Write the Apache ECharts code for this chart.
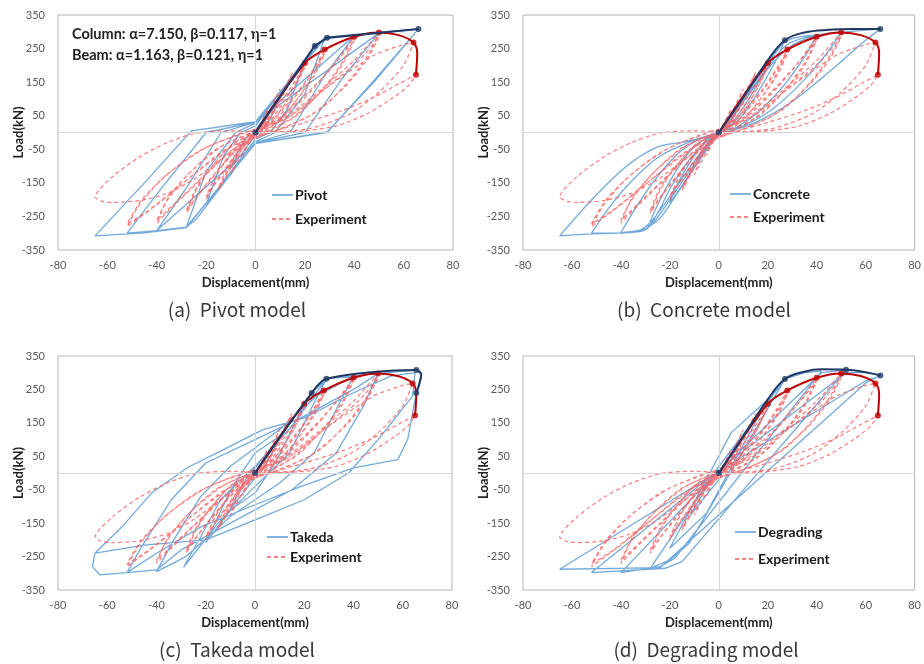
<!DOCTYPE html>
<html><head><meta charset="utf-8">
<script src="https://cdn.jsdelivr.net/npm/echarts@6/dist/echarts.min.js"></script>
<style>html,body{margin:0;padding:0;background:#fff}#c{width:924px;height:664px}</style>
</head><body><div id="c"></div>
<script>
// ---------- tick labels ----------
const xTicks = [-80, -60, -40, -20, 0, 20, 40, 60, 80];
const yTicks = [-350, -250, -150, -50, 50, 150, 250, 350];
const modelNames = ['Pivot', 'Concrete', 'Takeda', 'Degrading'];
const captions = ['(a)  Pivot model', '(b)  Concrete model', '(c)  Takeda model', '(d)  Degrading model'];

// ---------- experiment (same in all panels) ----------
const experimentPath = [
 [0,0],[2,25],[4,55],[5,70],[4,50],[2,18],[0,-2],[-2,-25],[-4,-52],[-5,-68],[-4,-48],[-2,-15],[0,2],
 [3,30],[6,70],[8,100],[10,130],[8,95],[5,48],[2,12],[-1,-10],[-4,-45],[-7,-85],[-10,-125],[-8,-88],[-5,-42],[-2,-10],[1,8],
 [5,45],[10,110],[13,150],[15,178],[12,130],[8,70],[4,22],[0,-6],[-5,-45],[-10,-105],[-15,-172],[-12,-125],[-8,-68],[-3,-20],[1,6],
 [6,50],[11,115],[15,170],[12,122],[7,60],[3,15],[-1,-10],[-6,-55],[-11,-115],[-15,-165],[-12,-115],[-7,-55],[-2,-12],[1,8],
 [6,45],[13,120],[17,165],[20,207],[17,150],[12,85],[6,28],[0,-8],[-6,-50],[-13,-120],[-17,-160],[-20,-200],[-17,-142],[-12,-82],[-6,-28],[1,5],
 [7,45],[14,120],[20,195],[16,135],[11,75],[5,20],[-1,-10],[-7,-55],[-14,-125],[-20,-190],[-16,-130],[-11,-72],[-5,-22],[1,5],
 [8,45],[18,130],[24,195],[28,247],[24,180],[18,110],[10,38],[2,-5],[-8,-55],[-18,-140],[-24,-195],[-28,-240],[-24,-172],[-18,-105],[-10,-40],[0,2],
 [9,45],[19,135],[28,235],[24,172],[17,100],[9,32],[0,-8],[-9,-60],[-19,-145],[-28,-232],[-24,-165],[-17,-95],[-9,-32],[1,4],
 [10,45],[22,125],[32,205],[40,285],[36,220],[29,145],[18,58],[6,5],[-8,-45],[-20,-125],[-32,-210],[-40,-270],[-36,-205],[-28,-130],[-16,-50],[-2,0],
 [11,45],[24,135],[40,275],[35,200],[27,125],[15,45],[2,-5],[-10,-55],[-24,-150],[-40,-262],[-35,-190],[-26,-115],[-13,-38],[0,3],
 [12,45],[26,125],[40,215],[50,298],[46,235],[38,155],[26,68],[10,10],[-8,-35],[-25,-125],[-40,-215],[-52,-280],[-47,-215],[-38,-140],[-24,-60],[-8,-8],
 [12,40],[28,130],[42,215],[50,285],[45,215],[36,135],[22,50],[6,0],[-12,-50],[-30,-155],[-44,-235],[-52,-272],[-46,-200],[-35,-120],[-20,-45],[-4,0],
 [12,40],[30,140],[48,230],[60,262],[64,268],[60,200],[50,120],[38,55],[22,12],[5,2],
 [-11,5],[-24,-2],[-36,-31],[-47,-73],[-58,-132],[-65,-192],[-62,-205],[-58,-208],[-47,-203],[-36,-182],[-25,-140],[-12,-70],[0,-15],
 [8,5],[20,30],[35,65],[48,105],[58,145],[65,172],[62,140],[55,100],[45,55],[33,20],[20,5],[5,0]
];
const experimentEnvelope = [[0,0],[20,207],[28,247],[40,285],[50,298],[58,290],[64,268],[65.5,235],[65,172]];
const experimentMarks = [[20,207],[28,247],[40,285],[50,298],[64,268],[65,172]];

// ---------- Pivot model ----------
const pivotPath = [
 [0,0],[10,107],[6,40],[2,0],[0,-8],[-10,-107],[-6,-40],[-2,0],[0,8],
 [20,215],[13,70],[6,0],[0,-20],[-20,-215],[-13,-70],[-6,0],[0,20],
 [24,258],[28,280],[20,115],[8,0],[0,-28],[-24,-258],[-28,-282],[-20,-115],[-8,0],[0,28],
 [28,280],[40,288],[28,170],[14,0],[0,-30],[-28,-282],[-40,-292],[-28,-165],[-14,0],[0,30],
 [40,288],[50,296],[35,160],[20,0],[0,-31],[-40,-292],[-52,-300],[-38,-165],[-20,0],[0,31],
 [50,296],[66,308],[48,155],[29,0],[0,-32],[-28,-283],[-45,-299],[-65,-308],[-45,-150],[-26,5],[0,32],
 [28,283],[50,298],[66,308],[48,150],[29,2],[0,-33]
];
const pivotEnvelope = [[0,0],[24,258],[29,282],[66,308]];
const pivotMarks = [[0,0],[24,258],[29,282],[66,308]];

// ---------- Concrete model ----------
const concretePath = [
 [0,0],[8,85],[12,125],[8,70],[4,25],[0,0],[-8,-85],[-12,-125],[-8,-70],[-4,-25],[0,0],
 [10,105],[20,210],[17,160],[11,85],[5,25],[0,0],[-10,-105],[-20,-210],[-17,-155],[-11,-80],[-5,-22],[0,0],
 [10,105],[20,212],[27,275],[23,210],[16,120],[9,45],[3,8],[0,0],[-10,-105],[-20,-215],[-24,-255],[-29,-283],[-25,-215],[-18,-120],[-11,-50],[-4,-12],[0,0],
 [10,100],[20,205],[27,270],[33,285],[40,290],[35,225],[26,135],[16,60],[7,15],[0,0],[-10,-95],[-20,-200],[-26,-262],[-30,-287],[-40,-298],[-34,-225],[-26,-140],[-17,-65],[-8,-20],[0,0],
 [10,95],[20,195],[28,262],[38,288],[50,298],[44,235],[34,150],[22,70],[10,20],[0,0],[-10,-85],[-20,-190],[-27,-260],[-32,-290],[-42,-300],[-52,-300],[-45,-225],[-35,-140],[-24,-70],[-12,-28],[-3,-6],[0,0],
 [10,90],[20,190],[30,260],[42,292],[52,300],[66,308],[60,275],[45,180],[29,87],[15,30],[5,5],[0,0],[-11,-72],[-19.5,-162],[-25,-240],[-30,-290],[-42,-300],[-52,-302],[-65,-308],[-52,-201],[-38,-102],[-25,-43],[-14,-28],[-3,-8],[0,0]
];
const concreteEnvelope = [[0,0],[10,105],[20,215],[27,275],[35,298],[45,306],[55,308],[66,308]];
const concreteMarks = [[0,0],[27,275],[66,308]];

// ---------- Takeda model ----------
const takedaPath = [
 [0,0],[10,107],[7,60],[3,10],[0,-15],[-10,-107],[-7,-60],[-3,-10],[0,15],
 [10,107],[20,208],[15,130],[9,40],[0,-60],[-10,-110],[-20,-208],[-15,-130],[-9,-40],[0,60],[10,110],
 [23,239],[29,282],[22,180],[14,60],[0,-40],[-15,-150],[-29,-282],[-22,-190],[-14,-80],[0,20],[15,140],
 [29,282],[40,290],[33,190],[24,60],[10,-30],[-10,-130],[-28,-250],[-40,-295],[-33,-200],[-22,-70],[-10,20],[10,130],[25,230],
 [40,290],[50,298],[44,200],[33,60],[15,-50],[-10,-150],[-30,-230],[-40,-290],[-52,-298],[-46,-220],[-34,-80],[-20,30],[0,100],[20,170],[40,250],
 [50,298],[65,308],[67.5,295],[65.5,239],[62,100],[58,40],[40,15],[18,-42],[-2,-101],[-22,-161],[-40,-240],[-52,-298],[-63,-305],[-66,-280],[-65,-240],
 [-54,-161],[-42,-60],[-27,18],[-13,69],[3,129],[20,165],[40,240],[55,290],[65,300],[64,230],[50,100],[38,0],[20,-80],[0,-140],[-20,-200],[-44,-215],[-65,-240]
];
const takedaEnvelope = [[0,0],[23,239],[29,282],[65.5,308],[67.5,295],[65.5,239]];
const takedaMarks = [[0,0],[23,239],[29,282],[65.5,308],[65.5,239]];

// ---------- Degrading model ----------
const degradingPath = [
 [0,0],[12,130],[0,-20],[-12,-130],[0,20],[12,130],[20,220],
 [-5,-120],[-20,-225],[5,120],[20,220],[27,281],
 [-12,-210],[-20,-260],[-28,-285],[0,20],[27,281],[35,300],[42,305],
 [-18,-255],[-24,-280],[-40,-298],[-5,-30],[42,300],[52,308],
 [-15,-265],[-22,-285],[-52,-298],[0,10],[52,300],[60,300],[66,292],
 [60.5,272],[-24,-283],[-65,-288],[60.5,278],[66,290]
];
const degradingEnvelope = [[0,0],[10,110],[20,220],[27,281],[35,303],[42,310],[52,309],[66,292]];
const degradingMarks = [[0,0],[27,281],[52,309],[66,292]];

const modelPaths = [pivotPath, concretePath, takedaPath, degradingPath];
const modelEnvelopes = [pivotEnvelope, concreteEnvelope, takedaEnvelope, degradingEnvelope];
const modelMarks = [pivotMarks, concreteMarks, takedaMarks, degradingMarks];
const modelSmooth = [false, 0.3, false, false];
const envelopeSmooth = [false, 0.4, 0.3, 0.4];

// ---------- layout ----------
const grids = [
 {left: 58, top: 15, width: 395, height: 235},
 {left: 523, top: 15, width: 394, height: 235},
 {left: 58, top: 356, width: 394, height: 234},
 {left: 523, top: 356, width: 394, height: 234}
];
// legend: line start x, first row centre y, second row centre y
const legendPos = [[272, 195, 219], [730, 194, 217], [267, 537, 557], [735, 532, 559]];
const captionPos = [[237, 310], [704, 310], [237, 650], [706, 650]];

const FONT = 'Lato, "Open Sans", "Noto Sans", sans-serif';
const BLUE = '#5b9bd5', RED = '#ff5a5a', DBLUE = '#1f3864', DRED = '#c00000';

const xAxes = [], yAxes = [], series = [], graphics = [];
grids.forEach((g, i) => {
  g.show = true; g.borderColor = '#b4b4b4'; g.borderWidth = 1; g.containLabel = false;
  xAxes.push({
    type: 'value', gridIndex: i, min: xTicks[0], max: xTicks[xTicks.length - 1], interval: 20,
    name: 'Displacement(mm)', nameLocation: 'middle', nameGap: 26, nameMoveOverlap: false,
    nameTextStyle: {fontFamily: FONT, fontWeight: 'bold', fontSize: 13, color: '#222'},
    axisLine: {show: false}, axisTick: {show: false}, splitLine: {show: false},
    axisLabel: {color: '#595959', fontSize: 11, fontFamily: FONT, margin: 10}
  });
  yAxes.push({
    type: 'value', gridIndex: i, min: yTicks[0], max: yTicks[yTicks.length - 1], interval: 100,
    name: 'Load(kN)', nameLocation: 'middle', nameGap: 33, nameRotate: 90, nameMoveOverlap: false,
    nameTextStyle: {fontFamily: FONT, fontWeight: 'bold', fontSize: 13, color: '#222'},
    axisLine: {show: false}, axisTick: {show: false}, splitLine: {show: false},
    axisLabel: {color: '#595959', fontSize: 11, fontFamily: FONT, margin: 13}
  });
  series.push({
    name: modelNames[i], type: 'line', xAxisIndex: i, yAxisIndex: i, data: modelPaths[i],
    showSymbol: false, symbol: 'none', smooth: modelSmooth[i], z: 2,
    lineStyle: {color: BLUE, width: 1.3, opacity: 0.85}, itemStyle: {color: BLUE},
    markLine: {silent: true, symbol: ['none', 'none'], label: {show: false}, animation: false,
      lineStyle: {color: '#d6d6d6', width: 1, type: 'solid'},
      data: [{xAxis: 0}, {yAxis: 0}]}
  });
  series.push({
    name: 'Experiment', type: 'line', xAxisIndex: i, yAxisIndex: i, data: experimentPath,
    showSymbol: false, symbol: 'none', smooth: 0.25, z: 3,
    lineStyle: {color: RED, width: 1.2, type: [4, 3], opacity: 0.8}, itemStyle: {color: RED}
  });
  series.push({
    name: 'expEnv' + i, type: 'line', xAxisIndex: i, yAxisIndex: i, data: experimentEnvelope,
    showSymbol: false, symbol: 'none', smooth: 0.3, z: 4,
    lineStyle: {color: DRED, width: 2}
  });
  series.push({
    name: 'expMk' + i, type: 'scatter', xAxisIndex: i, yAxisIndex: i, data: experimentMarks,
    symbolSize: 6, z: 5, itemStyle: {color: DRED}
  });
  series.push({
    name: 'modEnv' + i, type: 'line', xAxisIndex: i, yAxisIndex: i, data: modelEnvelopes[i],
    showSymbol: false, symbol: 'none', smooth: envelopeSmooth[i], z: 6,
    lineStyle: {color: DBLUE, width: 2}
  });
  series.push({
    name: 'modMk' + i, type: 'scatter', xAxisIndex: i, yAxisIndex: i, data: modelMarks[i],
    symbolSize: 6, z: 7, itemStyle: {color: DBLUE}
  });
  // legend drawn as graphics (solid blue line / dashed red line)
  const lp = legendPos[i];
  graphics.push({type: 'line', shape: {x1: lp[0], y1: lp[1], x2: lp[0] + 21, y2: lp[1]},
    style: {stroke: BLUE, lineWidth: 1.5}});
  graphics.push({type: 'text', x: lp[0] + 23, y: lp[1], style: {text: modelNames[i],
    font: 'bold 14px ' + FONT, fill: '#1a1a1a', textVerticalAlign: 'middle'}});
  graphics.push({type: 'line', shape: {x1: lp[0], y1: lp[2], x2: lp[0] + 21, y2: lp[2]},
    style: {stroke: RED, lineWidth: 1.5, lineDash: [4, 3]}});
  graphics.push({type: 'text', x: lp[0] + 23, y: lp[2], style: {text: 'Experiment',
    font: 'bold 14px ' + FONT, fill: '#1a1a1a', textVerticalAlign: 'middle'}});
  graphics.push({
    type: 'text', x: captionPos[i][0], y: captionPos[i][1],
    style: {text: captions[i], font: '19px "Noto Sans CJK KR", "Noto Sans", sans-serif', fill: '#3a3a3a',
      textAlign: 'center', textVerticalAlign: 'middle'}
  });
});
graphics.push({type: 'text', x: 72, y: 34, style: {text: 'Column: α=7.150, β=0.117, η=1',
  font: 'bold 14.5px ' + FONT, fill: '#222', textVerticalAlign: 'middle'}});
graphics.push({type: 'text', x: 72, y: 55, style: {text: 'Beam: α=1.163, β=0.121, η=1',
  font: 'bold 14.5px ' + FONT, fill: '#222', textVerticalAlign: 'middle'}});

const chart = echarts.init(document.getElementById('c'), null, {renderer: 'canvas'});
chart.setOption({
  animation: false, backgroundColor: '#fff',
  grid: grids, xAxis: xAxes, yAxis: yAxes, series: series, graphic: graphics
});
</script></body></html>
